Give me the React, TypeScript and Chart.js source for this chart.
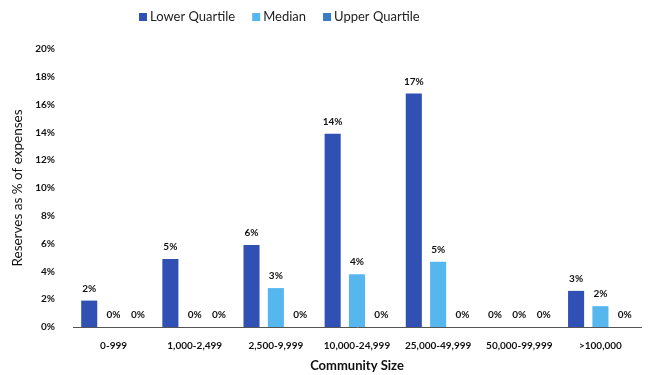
import React, { useEffect, useRef } from "react";
import { Chart, registerables } from "chart.js";

Chart.register(...registerables);

const categories = ["0-999", "1,000-2,499", "2,500-9,999", "10,000-24,999", "25,000-49,999", "50,000-99,999", ">100,000"];
const lowerQuartile = [1.9, 4.9, 5.9, 13.9, 16.8, 0, 2.6];
const median = [0, 0, 2.8, 3.8, 4.7, 0, 1.5];
const upperQuartile = [0, 0, 0, 0, 0, 0, 0];
const yTicks = [0, 2, 4, 6, 8, 10, 12, 14, 16, 18, 20];

const FONT = "Lato, 'Open Sans', sans-serif";

const labelPlugin = {
  id: "barLabels",
  afterDatasetsDraw(chart: any) {
    const ctx = chart.ctx;
    ctx.save();
    ctx.font = `bold 10px ${FONT}`;
    ctx.fillStyle = "#111";
    ctx.textAlign = "center";
    ctx.textBaseline = "bottom";
    chart.data.datasets.forEach((ds: any, i: number) => {
      const meta = chart.getDatasetMeta(i);
      meta.data.forEach((bar: any, j: number) => {
        const v = ds.data[j] as number;
        ctx.fillText(Math.round(v) + "%", bar.x, bar.y - 7);
      });
    });
    ctx.restore();
  },
};

const legendPlugin = {
  id: "customLegend",
  afterDraw(chart: any) {
    const ctx = chart.ctx;
    ctx.save();
    ctx.font = `13px ${FONT}`;
    ctx.textBaseline = "middle";
    ctx.textAlign = "left";
    let x = 139;
    const y = 17;
    chart.data.datasets.forEach((ds: any) => {
      ctx.fillStyle = ds.backgroundColor;
      ctx.fillRect(x, y - 4, 8, 8);
      ctx.fillStyle = "#222";
      ctx.fillText(ds.label, x + 11, y);
      x += 11 + ctx.measureText(ds.label).width + 17;
    });
    ctx.restore();
  },
};

export default function App() {
  const ref = useRef<HTMLCanvasElement>(null);
  useEffect(() => {
    document.body.style.margin = "0";
    const chart = new Chart(ref.current!, {
      type: "bar",
      data: {
        labels: categories,
        datasets: [
          { label: "Lower Quartile", data: lowerQuartile, backgroundColor: "#3050b4" },
          { label: "Median", data: median, backgroundColor: "#55b7ee" },
          { label: "Upper Quartile", data: upperQuartile, backgroundColor: "#3a7cc4" },
        ],
      },
      options: {
        animation: false,
        responsive: false,
        maintainAspectRatio: false,
        layout: { padding: { left: 8, right: 15, top: 49, bottom: 3 } },
        datasets: { bar: { categoryPercentage: 0.9, barPercentage: 0.66 } },
        plugins: {
          legend: { display: false },
          tooltip: { enabled: false },
        },
        scales: {
          x: {
            grid: { display: false, drawTicks: false },
            border: { display: true, color: "#555", width: 1 },
            ticks: { color: "#111", font: { family: FONT, size: 10, weight: "bold" }, padding: 13 },
            title: { display: true, text: "Community Size", color: "#111", font: { family: FONT, size: 13, weight: "bold", lineHeight: 1.0 }, padding: { top: 0, bottom: 0 } },
            afterFit: (axis: any) => {
              axis.height = 45;
            },
          },
          y: {
            min: 0,
            max: 20,
            afterBuildTicks: (axis: any) => {
              axis.ticks = yTicks.map((v) => ({ value: v }));
            },
            afterFit: (axis: any) => {
              axis.width = 65;
            },
            grid: { display: false, drawTicks: false },
            border: { display: false },
            ticks: { color: "#111", font: { family: FONT, size: 10, weight: "bold" }, padding: 18, callback: (v: any) => v + "%" },
            title: { display: true, text: "Reserves as % of expenses", color: "#111", font: { family: FONT, size: 13.5 }, padding: { top: 2, bottom: 8 } },
          },
        },
      },
      plugins: [labelPlugin, legendPlugin],
    });
    return () => chart.destroy();
  }, []);
  return (
    <div style={{ width: 656, height: 375 }}>
      <canvas ref={ref} width={656} height={375} style={{ width: 656, height: 375, display: "block" }} />
    </div>
  );
}
